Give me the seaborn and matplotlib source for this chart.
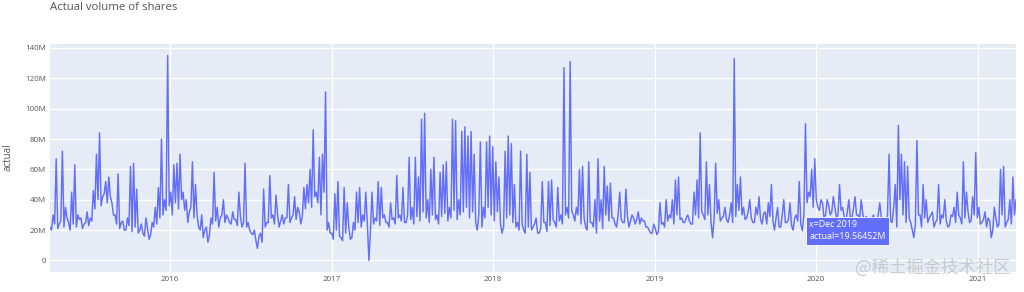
import matplotlib
matplotlib.use("Agg")
import matplotlib.pyplot as plt
import matplotlib.ticker as mticker
import seaborn as sns
import pandas as pd
import numpy as np

# ---- data (values in millions of shares) ----
start_date = "2015-04-05"
# weekly readings (peaks / typical values)
vol_2015 = [22, 30, 67, 24, 72, 35, 25, 45, 63, 30, 28, 24, 32, 28, 46, 70, 84, 42, 52, 55,
            38, 30, 57, 25, 20, 28, 62, 64, 47, 20, 18, 28, 14, 25, 35, 48, 80, 40, 135, 45,
            63, 64, 70, 45, 40]
vol_2016 = [32, 65, 50, 22, 30, 20, 12, 28, 58, 35, 28, 40, 30, 25, 32, 27, 45, 22, 64, 25,
            18, 20, 8, 18, 47, 25, 56, 30, 43, 22, 30, 28, 50, 28, 42, 35, 24, 48, 50, 60,
            86, 45, 68, 70, 111]
vol_2017 = [25, 18, 44, 52, 15, 48, 38, 14, 25, 45, 48, 30, 45, 0, 45, 28, 52, 48, 30, 25,
            38, 28, 56, 30, 48, 25, 68, 35, 68, 55, 93, 97, 40, 60, 68, 30, 58, 63, 65, 35,
            93, 92, 40, 85]
vol_2018 = [88, 82, 85, 70, 20, 78, 35, 78, 82, 75, 65, 55, 18, 72, 82, 77, 50, 25, 72, 20,
            70, 58, 22, 28, 18, 52, 25, 52, 53, 25, 48, 30, 127, 35, 131, 30, 35, 60, 62, 22,
            65, 25, 40, 67, 40]
vol_2019 = [62, 49, 51, 28, 22, 45, 25, 47, 22, 30, 24, 32, 28, 26, 22, 18, 24, 17, 38, 25,
            40, 30, 40, 53, 55, 28, 25, 30, 24, 45, 53, 84, 30, 65, 50, 15, 64, 40, 28, 35,
            25, 38, 133, 50]
vol_2020a = [55, 35, 28, 40, 25, 35, 42, 24, 32, 38, 50, 20, 35, 22, 40, 25, 38, 20, 30, 52,
             19.56452, 90, 45, 60, 67, 35, 40, 28, 40, 30, 42, 28, 50, 35, 25, 40, 28, 42, 30, 40,
             25, 28, 22, 30, 26]
vol_2020b = [38, 28, 22, 70, 25, 50, 89, 70, 65, 62, 25, 15, 79, 30, 50, 40, 28, 32, 25, 50,
             30, 40, 22, 30, 35, 45, 28, 65, 45, 25, 42, 71, 35, 25, 32, 28, 15, 35, 22, 60,
             62, 25, 40, 55, 40]
# mid-week readings (baseline band)
mid_2015 = [20, 24, 21, 26, 22, 28, 20, 24, 22, 27, 21, 25, 23, 26, 34, 40, 36, 44, 38, 42,
            30, 24, 21, 26, 20, 23, 19, 22, 18, 24, 16, 21, 17, 22, 24, 28, 30, 33, 36, 30,
            38, 34, 40, 33, 25]
mid_2016 = [35, 28, 30, 20, 15, 22, 17, 24, 26, 22, 30, 25, 28, 24, 27, 23, 29, 25, 22, 20,
            17, 13, 16, 12, 22, 25, 28, 24, 30, 26, 24, 28, 25, 30, 27, 32, 29, 34, 38, 35,
            42, 38, 30, 45, 20]
mid_2017 = [18, 14, 20, 16, 13, 18, 22, 15, 20, 25, 22, 26, 24, 20, 24, 26, 23, 28, 25, 22,
            27, 24, 28, 26, 25, 30, 27, 24, 29, 26, 32, 28, 25, 30, 27, 24, 29, 31, 26, 28,
            33, 27, 30, 32]
mid_2018 = [35, 28, 32, 25, 30, 22, 28, 35, 30, 26, 32, 24, 22, 28, 30, 25, 22, 20, 24, 18,
            22, 20, 24, 18, 21, 25, 19, 23, 27, 22, 26, 24, 30, 28, 33, 26, 30, 24, 28, 20,
            25, 22, 18, 26, 21]
mid_2019 = [30, 26, 28, 24, 30, 27, 25, 29, 26, 28, 27, 24, 26, 22, 20, 18, 21, 19, 24, 22,
            26, 28, 24, 30, 27, 25, 28, 26, 24, 30, 28, 32, 27, 30, 25, 28, 31, 26, 29, 27,
            30, 25, 29, 33]
mid_2020a = [30, 27, 32, 28, 25, 30, 27, 31, 24, 29, 26, 28, 22, 30, 25, 27, 23, 28, 26, 24,
             30, 38, 42, 35, 40, 33, 38, 30, 36, 32, 35, 30, 33, 29, 32, 28, 34, 30, 27, 31,
             29, 26, 28, 24, 30]
mid_2020b = [28, 24, 30, 26, 35, 22, 40, 30, 25, 28, 20, 24, 30, 22, 28, 25, 30, 22, 27, 24,
             28, 26, 23, 29, 25, 30, 24, 28, 32, 26, 30, 28, 24, 27, 22, 26, 20, 28, 24, 30,
             22, 27, 24, 30]

weekly = vol_2015 + vol_2016 + vol_2017 + vol_2018 + vol_2019 + vol_2020a + vol_2020b
midweek = mid_2015 + mid_2016 + mid_2017 + mid_2018 + mid_2019 + mid_2020a + mid_2020b
week_dates = pd.date_range(start_date, periods=len(weekly), freq="7D")
mid_dates = week_dates[:len(midweek)] + pd.Timedelta(hours=84)
df = pd.DataFrame({"date": list(week_dates) + list(mid_dates),
                   "actual": weekly + midweek}).sort_values("date").reset_index(drop=True)

year_ticks = ["2016", "2017", "2018", "2019", "2020", "2021"]
y_ticks = [0, 20, 40, 60, 80, 100, 120, 140]
hover_week = 243
hover_label = "x=Dec 2019\nactual=19.56452M"
title = "Actual volume of shares"
y_title = "actual"
watermark = "@稀土掘金技术社区"

# ---- style ----
sns.set_theme(style="darkgrid", rc={
    "axes.facecolor": "#E5ECF6",
    "grid.color": "white",
    "grid.linewidth": 1.0,
    "axes.edgecolor": "#E5ECF6",
})
plt.rcParams["font.family"] = ["Open Sans", "DejaVu Sans"]

fig = plt.figure(figsize=(10.24, 2.92), dpi=100)
fig.patch.set_facecolor("white")
ax = fig.add_axes([50 / 1024, 1 - 271.7 / 292, 966 / 1024, 227.7 / 292])

sns.lineplot(data=df, x="date", y="actual", ax=ax, color="#636EFA", linewidth=1.05)

ax.set_xlim(df["date"].iloc[0], df["date"].iloc[-1])
ax.set_ylim(-7.4, 142.6)
ax.set_yticks(y_ticks)
ax.yaxis.set_major_formatter(mticker.FuncFormatter(lambda v, p: "0" if v == 0 else f"{int(v)}M"))
ax.set_xticks([pd.Timestamp(f"{y}-01-01") for y in year_ticks])
ax.set_xticklabels(year_ticks)
ax.tick_params(axis="both", labelsize=5.8, colors="#555555", length=0, pad=3)
ax.set_xlabel("")
ax.set_ylabel("")
for s in ax.spines.values():
    s.set_visible(False)

# hover label
hx = week_dates[hover_week]
hy = weekly[hover_week]
ax.annotate(hover_label, xy=(hx, hy), xytext=(5, 0), textcoords="offset points",
            ha="left", va="center", fontsize=6.4, color="white", linespacing=1.45,
            bbox=dict(boxstyle="square,pad=0.4", fc="#636EFA", ec="white", lw=0.6))

fig.text(50 / 1024, 1 - 7.5 / 292, title, fontsize=8.2, color="#555555", va="center", ha="left")
fig.text(8 / 1024, 1 - 157 / 292, y_title, fontsize=7, color="#555555", va="center",
         ha="center", rotation=90)
fig.text(1010 / 1024, 1 - 268 / 292, watermark, fontsize=12.5, color="#c4c4c4", alpha=0.85,
         va="center", ha="right", family=["Noto Sans CJK SC", "DejaVu Sans"])

fig.savefig("out.png", dpi=100, facecolor="white")
